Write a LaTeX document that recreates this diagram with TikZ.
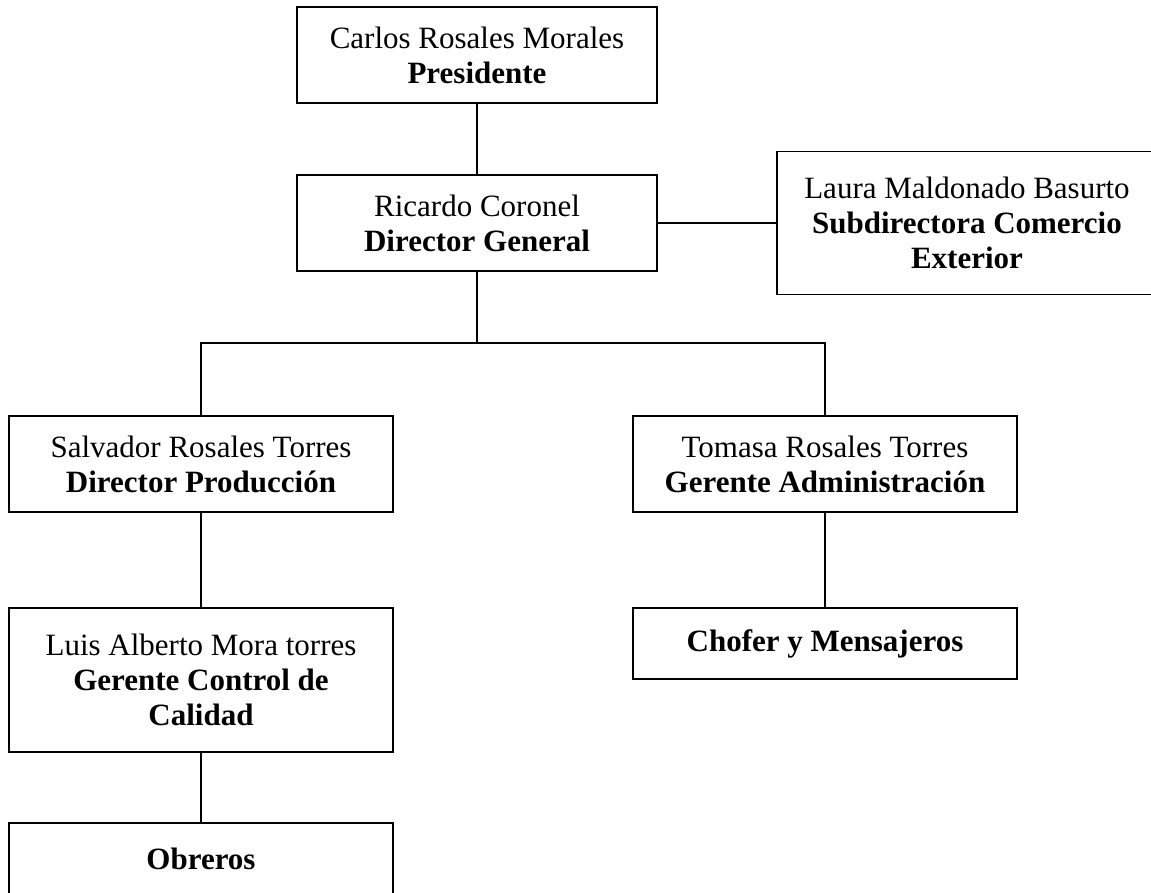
\documentclass[tikz,border=0pt]{standalone}
\usepackage{fontspec}
\setmainfont{Liberation Serif}
\tikzstyle{puesto} = [draw, rectangle, line width=1.8pt, align=center, inner sep=0pt, minimum width=384pt, minimum height=96pt, font=\fontsize{31}{35}\selectfont]
\tikzstyle{linea} = [draw, line width=1.8pt]

\begin{document}
\begin{tikzpicture}[x=1pt,y=-1pt,node distance=216pt]
\useasboundingbox (0,0) rectangle (1151,892);
\clip (0,0) rectangle (1151,892);

\node[puesto, minimum width=360pt] (pres) at (477,55) {Carlos Rosales Morales\\ \textbf{Presidente}};
\node[puesto, minimum width=360pt, below of = pres, node distance=168pt] (dirgen) {Ricardo Coronel\\ \textbf{Director General}};
\node[puesto, minimum width=380pt, minimum height=143pt] (subdir) at (967,223) {Laura Maldonado Basurto\\ \textbf{Subdirectora Comercio}\\ \textbf{Exterior}};
\node[puesto] (dirprod) at (201,464) {Salvador Rosales Torres\\ \textbf{Director Producción}};
\node[puesto, right of = dirprod, node distance=624pt] (geradm) {Tomasa Rosales Torres\\ \textbf{Gerente Administración}};
\node[puesto, minimum height=144pt, below of = dirprod] (gercal) {Luis Alberto Mora torres\\ \textbf{Gerente Control de}\\ \textbf{Calidad}};
\node[puesto, minimum height=71pt, below of = gercal, node distance=178.5pt] (obreros) {\textbf{Obreros}};
\node[puesto, minimum height=71pt, below of = geradm, node distance=179.5pt] (chofer) {\textbf{Chofer y Mensajeros}};

\coordinate (rama) at (477,343);

\path
(pres) edge [linea] (dirgen)
(dirgen) edge [linea] (subdir)
(dirprod) edge [linea] (gercal)
(gercal) edge [linea] (obreros)
(geradm) edge [linea] (chofer);
\draw[linea] (dirgen) -- (rama);
\draw[linea] (dirprod.north) |- (rama) -| (geradm.north);
\end{tikzpicture}
\end{document}
